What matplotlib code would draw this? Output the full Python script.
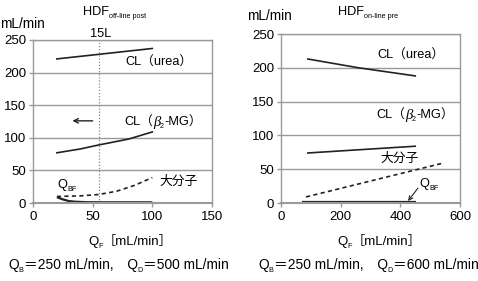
import matplotlib
matplotlib.use("Agg")
import matplotlib.pyplot as plt
from matplotlib.text import Annotation

plt.rcParams['font.family'] = ['Liberation Sans', 'Noto Sans CJK JP', 'DejaVu Sans']

W, H = 478, 281

# ---------------- data ----------------
# Left panel: HDF off-line post
L_xticks = [0, 50, 100, 150]
L_yticks = [0, 50, 100, 150, 200, 250]
L_urea_x = [20, 60, 100]
L_urea_y = [221, 229, 237]
L_b2_x = [20, 40, 55, 80, 100]
L_b2_y = [77, 83, 89, 98, 109]
L_large_x = [20, 40, 55, 70, 85, 100]
L_large_y = [10, 11, 13, 18, 27, 39]
L_qbf_x = [20, 25, 30, 35, 45, 60, 100]
L_qbf_y = [9, 5.5, 3, 2, 1.2, 1, 1]
L_vline = 55

# Right panel: HDF on-line pre
R_xticks = [0, 200, 400, 600]
R_yticks = [0, 50, 100, 150, 200, 250]
R_urea_x = [90, 260, 450]
R_urea_y = [213, 200, 188]
R_b2_x = [90, 270, 450]
R_b2_y = [74, 79, 84]
R_large_x = [84, 543]
R_large_y = [9, 59]
R_qbf_x = [70, 452]
R_qbf_y = [1, 1]

fig = plt.figure(figsize=(W / 100, H / 100), dpi=100)

GRID = '#9a9a9a'
FS_TICK = 9.5
FS_LAB = 9.2
FS_BOT = 9.9


def px(x, y):
    return x / W, 1 - y / H


def make_ax(rect_px, xticks, yticks):
    x0, ytop, w, h = rect_px
    ax = fig.add_axes([x0 / W, 1 - (ytop + h) / H, w / W, h / H])
    ax.set_xlim(xticks[0], xticks[-1])
    ax.set_ylim(yticks[0], yticks[-1])
    ax.set_xticks(xticks)
    ax.set_yticks(yticks)
    for sp in ax.spines.values():
        sp.set_color(GRID)
        sp.set_linewidth(1.0)
    ax.spines['bottom'].set_linewidth(1.5)
    ax.tick_params(axis='both', colors=GRID, labelcolor='black', labelsize=FS_TICK,
                   length=3, width=1.0, direction='out')
    ax.tick_params(axis='x', pad=3)
    ax.tick_params(axis='y', pad=2)
    ax.yaxis.grid(True, color=GRID, linewidth=1.0)
    ax.set_axisbelow(True)
    return ax


def chain(x, y, parts):
    """Draw a run of text pieces; x,y in pixels (baseline of first piece)."""
    fx, fy = px(x, y)
    s0, o0 = parts[0]
    first = fig.text(fx, fy, s0, ha='left', va='baseline', fontsize=o0.get('size', FS_LAB),
                     family=o0.get('family', None), style=o0.get('style', 'normal'))
    prev = first
    for s, o in parts[1:]:
        a = Annotation(s, xy=(1, 0), xycoords=(prev, first),
                       xytext=(o.get('dx', 0), o.get('dy', 0)), textcoords='offset points',
                       ha='left', va='bottom', fontsize=o.get('size', FS_LAB),
                       family=o.get('family', None), style=o.get('style', 'normal'))
        fig.add_artist(a)
        prev = a
    return first


ax1 = make_ax((33, 40, 179, 163), L_xticks, L_yticks)
ax2 = make_ax((281, 34, 179, 169), R_xticks, R_yticks)

# ---------------- left panel lines ----------------
ax1.plot(L_urea_x, L_urea_y, color='#222222', lw=1.2)
ax1.plot(L_b2_x, L_b2_y, color='#222222', lw=1.2)
ax1.plot(L_large_x, L_large_y, color='#222222', lw=1.2, dashes=(2.5, 2))
ax1.plot(L_qbf_x, L_qbf_y, color='#222222', lw=1.6, solid_capstyle='butt')
ax1.plot([L_vline, L_vline], [L_yticks[0], L_yticks[-1]], color='#888888', lw=0.9,
         dashes=(1, 1.5))
ax1.annotate('', xy=(33, 126), xytext=(50, 126),
             arrowprops=dict(arrowstyle='->', color='#222222', lw=1.0,
                             shrinkA=0, shrinkB=0, mutation_scale=8))

# ---------------- right panel lines ----------------
ax2.plot(R_urea_x, R_urea_y, color='#222222', lw=1.2)
ax2.plot(R_b2_x, R_b2_y, color='#222222', lw=1.2)
ax2.plot(R_large_x, R_large_y, color='#222222', lw=1.2, dashes=(2.5, 2))
ax2.plot(R_qbf_x, R_qbf_y, color='#222222', lw=1.6, solid_capstyle='butt')
ax2.annotate('', xy=(426, 3), xytext=(459, 22),
             arrowprops=dict(arrowstyle='->', color='#222222', lw=0.8,
                             shrinkA=0, shrinkB=0, mutation_scale=7))

# ---------------- texts ----------------
SUB = 5.2
BETA = dict(size=10.5, family=['Liberation Serif'], style='italic')

# left panel
chain(83, 15, [('HDF', dict(size=9.2)), ('off-line post', dict(size=SUB, dy=-1.2))])
chain(0, 28, [('mL/min', dict(size=9.8))])
chain(90, 37, [('15L', dict(size=9.2))])
chain(125, 66, [('CL（urea）', dict(size=FS_LAB))])
chain(124, 126, [('CL（', dict(size=FS_LAB)), ('β', BETA), ('2', dict(size=SUB, dy=-1.0)),
                 ('-MG）', dict(size=FS_LAB))])
chain(159, 185, [('大分子', dict(size=FS_LAB))])
chain(57, 188, [('Q', dict(size=FS_LAB)), ('BF', dict(size=SUB, dy=-1.2))])
chain(88, 245, [('Q', dict(size=9.5)), ('F', dict(size=SUB, dy=-1.2)),
                ('［mL/min］', dict(size=9.5))])
chain(8, 269, [('Q', dict(size=FS_BOT)), ('B', dict(size=SUB, dy=-1.2)),
               ('＝250 mL/min,　Q', dict(size=FS_BOT)), ('D', dict(size=SUB, dy=-1.2)),
               ('＝500 mL/min', dict(size=FS_BOT))])

# right panel
chain(338, 15, [('HDF', dict(size=9.2)), ('on-line pre', dict(size=SUB, dy=-1.2))])
chain(247, 20, [('mL/min', dict(size=9.8))])
chain(377, 59, [('CL（urea）', dict(size=FS_LAB))])
chain(376, 119, [('CL（', dict(size=FS_LAB)), ('β', BETA), ('2', dict(size=SUB, dy=-1.0)),
                 ('-MG）', dict(size=FS_LAB))])
chain(380, 162, [('大分子', dict(size=FS_LAB))])
chain(419, 187, [('Q', dict(size=FS_LAB)), ('BF', dict(size=SUB, dy=-1.2))])
chain(337, 245, [('Q', dict(size=9.5)), ('F', dict(size=SUB, dy=-1.2)),
                 ('［mL/min］', dict(size=9.5))])
chain(258, 269, [('Q', dict(size=FS_BOT)), ('B', dict(size=SUB, dy=-1.2)),
                 ('＝250 mL/min,　Q', dict(size=FS_BOT)), ('D', dict(size=SUB, dy=-1.2)),
                 ('＝600 mL/min', dict(size=FS_BOT))])

fig.savefig('out.png', dpi=100)
